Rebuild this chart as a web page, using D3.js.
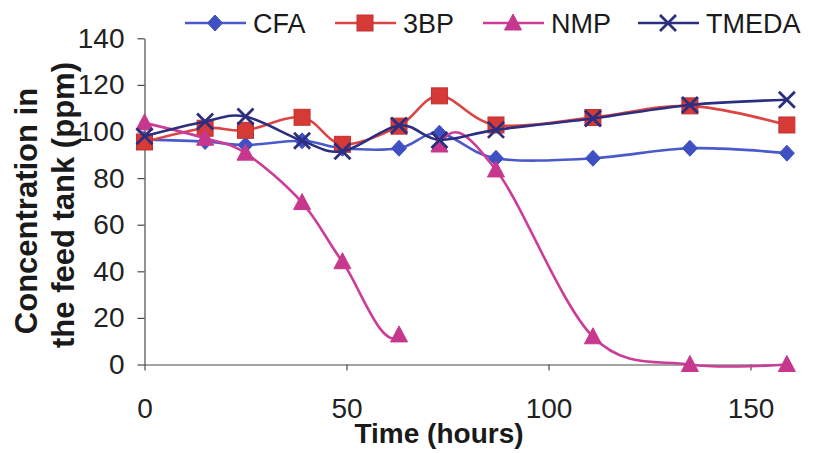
<!DOCTYPE html>
<html>
<head>
<meta charset="utf-8">
<script src="https://cdn.jsdelivr.net/npm/d3@7"></script>
<style>
  html, body { margin: 0; padding: 0; background: #ffffff; }
  svg { display: block; font-family: "Liberation Sans", Arial, sans-serif; }
</style>
</head>
<body>
<svg id="chart" width="817" height="453"></svg>
<script>
// Sampling times (hours)
const times = [0, 15, 25, 39, 49, 63, 73, 87, 111, 135, 159];

// Concentration in the feed tank (ppm) per compound
const cfa   = [96.5, 95.7, 94.2, 96.0, 92.8, 92.8, 99.3, 88.5, 88.5, 92.8, 90.7];
const bp3   = [95.5, 101.4, 100.5, 106.1, 94.5, 102.3, 115.3, 102.8, 106.0, 111.0, 102.8];
// NMP: the feed was replaced between 63 h and 73 h, so no line joins those two samples
const nmp   = [103.7, 97.1, 90.7, 69.5, 44.1, 12.7, 94.2, 83.5, 11.9, 0, 0];
const nmpGap = [63, 73];
const tmeda = [98.0, 104.3, 106.4, 96.0, 91.5, 102.6, 96.4, 100.7, 105.6, 111.4, 113.6];

const seriesNames = ["CFA", "3BP", "NMP", "TMEDA"];
const xTicks = [0, 50, 100, 150];
const yTicks = [0, 20, 40, 60, 80, 100, 120, 140];

const svg = d3.select("#chart");

const x = d3.scaleLinear().domain([0, 160]).range([144.5, 790.9]);
const y = d3.scaleLinear().domain([0, 140]).range([364.5, 38.3]);

const axisColor = "#4a4a4a";

// Y axis
const yAxis = svg.append("g")
  .attr("transform", `translate(${x(0)},0)`)
  .call(d3.axisLeft(y).tickValues(yTicks).tickSize(7).tickPadding(13).tickSizeOuter(0));
yAxis.select(".domain").attr("stroke", axisColor).attr("stroke-width", 1.2);
yAxis.selectAll(".tick line").attr("stroke", axisColor).attr("stroke-width", 1.2);
yAxis.selectAll(".tick text")
  .attr("font-size", 28).attr("fill", "#222").attr("font-family", "Liberation Sans, Arial, sans-serif");

// X axis
const xAxis = svg.append("g")
  .attr("transform", `translate(0,${y(0)})`)
  .call(d3.axisBottom(x).tickValues(xTicks).tickSize(6).tickPadding(0).tickSizeOuter(0));
xAxis.select(".domain").attr("stroke", axisColor).attr("stroke-width", 1.2);
xAxis.selectAll(".tick line").attr("stroke", axisColor).attr("stroke-width", 1.2);
xAxis.selectAll(".tick text")
  .attr("font-size", 28).attr("fill", "#222")
  .attr("font-family", "Liberation Sans, Arial, sans-serif")
  .attr("dy", null).attr("y", 418 - y(0));

// Axis titles
svg.append("text")
  .attr("x", 439).attr("y", 443)
  .attr("text-anchor", "middle")
  .attr("font-size", 28).attr("font-weight", "bold").attr("fill", "#1a1a1a")
  .text("Time (hours)");

const yTitle = svg.append("text")
  .attr("font-size", 31).attr("font-weight", "bold").attr("fill", "#1a1a1a")
  .attr("text-anchor", "middle");
yTitle.append("tspan").attr("x", -211).attr("y", 37).text("Concentration in");
yTitle.append("tspan").attr("x", -205).attr("y", 74).text("the feed tank (ppm)");
yTitle.attr("transform", "rotate(-90)");

// Clip that hides the NMP segment across the feed change
const defs = svg.append("defs");
const gapClip = defs.append("clipPath").attr("id", "nmp-gap");
gapClip.append("rect")
  .attr("x", 0).attr("y", 0).attr("width", x(nmpGap[0])).attr("height", 453);
gapClip.append("rect")
  .attr("x", x(nmpGap[1])).attr("y", 0).attr("width", 817 - x(nmpGap[1])).attr("height", 453);

// Series styling
const styles = {
  "CFA":   { line: "#4b5acb", fill: "#3f50c2", marker: "diamond" },
  "3BP":   { line: "#dc4545", fill: "#d53a36", marker: "square" },
  "NMP":   { line: "#cc3d98", fill: "#c7378e", marker: "triangle" },
  "TMEDA": { line: "#2c2e80", fill: "#2c2e80", marker: "cross" }
};
const values = { "CFA": cfa, "3BP": bp3, "NMP": nmp, "TMEDA": tmeda };

function drawMarker(g, type, cx, cy, st) {
  if (type === "diamond") {
    g.append("path")
      .attr("d", `M${cx},${cy - 8}L${cx + 7.5},${cy}L${cx},${cy + 8}L${cx - 7.5},${cy}Z`)
      .attr("fill", st.fill).attr("stroke", st.fill).attr("stroke-width", 1);
  } else if (type === "square") {
    g.append("rect")
      .attr("x", cx - 8).attr("y", cy - 8).attr("width", 16).attr("height", 16)
      .attr("fill", st.fill).attr("stroke", "#c23030").attr("stroke-width", 1);
  } else if (type === "triangle") {
    g.append("path")
      .attr("d", `M${cx},${cy - 9}L${cx + 8.5},${cy + 7}L${cx - 8.5},${cy + 7}Z`)
      .attr("fill", st.fill).attr("stroke", st.fill).attr("stroke-width", 1);
  } else if (type === "cross") {
    g.append("path")
      .attr("d", `M${cx - 8},${cy - 8}L${cx + 8},${cy + 8}M${cx + 8},${cy - 8}L${cx - 8},${cy + 8}`)
      .attr("stroke", st.line).attr("stroke-width", 2.8).attr("fill", "none");
  }
}

const plot = svg.append("g");
const line = d3.line()
  .x(d => x(d.t)).y(d => y(d.v))
  .curve(d3.curveCatmullRom.alpha(0));

seriesNames.forEach(name => {
  const st = styles[name];
  const vals = values[name];
  const pts = times.map((t, i) => ({ t, v: vals[i] }));
  const g = plot.append("g");

  const path = g.append("path")
    .attr("d", line(pts))
    .attr("fill", "none")
    .attr("stroke", st.line)
    .attr("stroke-width", 2.6)
    .attr("stroke-linejoin", "round");
  if (name === "NMP") path.attr("clip-path", "url(#nmp-gap)");

  pts.forEach(p => drawMarker(g, st.marker, x(p.t), y(p.v), st));
});

// Legend across the top
const legendX = [185, 335, 483, 638];
const legendY = 23;
seriesNames.forEach((name, i) => {
  const st = styles[name];
  const g = svg.append("g");
  const x0 = legendX[i];
  g.append("line")
    .attr("x1", x0).attr("x2", x0 + 61)
    .attr("y1", legendY).attr("y2", legendY)
    .attr("stroke", st.line).attr("stroke-width", 2.6);
  drawMarker(g, st.marker, x0 + 30, legendY, st);
  g.append("text")
    .attr("x", x0 + 68).attr("y", legendY + 10)
    .attr("font-size", 27).attr("fill", "#1a1a1a")
    .text(name);
});
</script>
</body>
</html>
